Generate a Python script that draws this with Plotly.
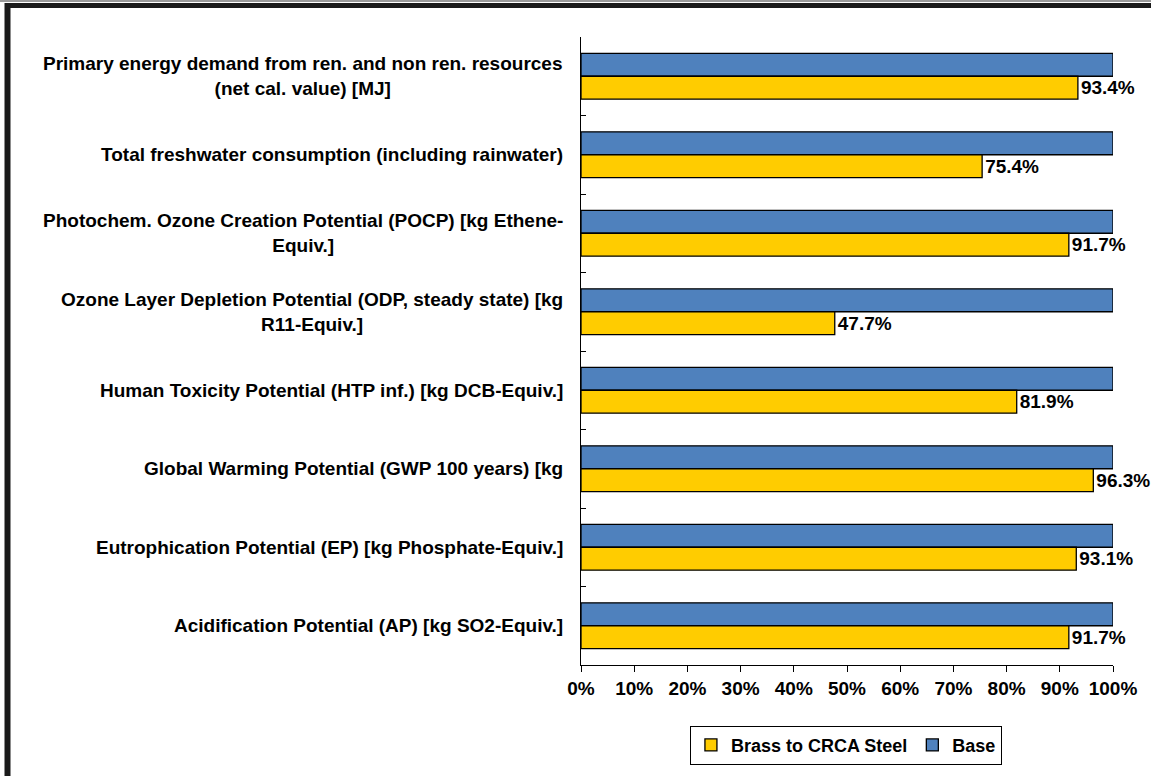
import plotly.graph_objects as go

categories = [
    "Primary energy demand from ren. and non ren. resources<br>(net cal. value) [MJ]",
    "Total freshwater consumption (including rainwater)",
    "Photochem. Ozone Creation Potential (POCP) [kg Ethene-<br>Equiv.]",
    "Ozone Layer Depletion Potential (ODP, steady state) [kg<br>R11-Equiv.]",
    "Human Toxicity Potential (HTP inf.) [kg DCB-Equiv.]",
    "Global Warming Potential (GWP 100 years) [kg",
    "Eutrophication Potential (EP) [kg Phosphate-Equiv.]",
    "Acidification Potential (AP) [kg SO2-Equiv.]",
]
base_values = [1.0, 1.0, 1.0, 1.0, 1.0, 1.0, 1.0, 1.0]
brass_values = [0.934, 0.754, 0.917, 0.477, 0.819, 0.963, 0.931, 0.917]
x_ticks = [0, 0.1, 0.2, 0.3, 0.4, 0.5, 0.6, 0.7, 0.8, 0.9, 1.0]
x_tick_labels = ["0%", "10%", "20%", "30%", "40%", "50%", "60%", "70%", "80%", "90%", "100%"]

FONT = "Liberation Sans, Arial, sans-serif"
FS = 19
W, H = 1151, 776
ML, MR, MT, MB = 581, 38, 37, 110

ids = list(range(len(categories)))

fig = go.Figure()
fig.add_trace(go.Bar(
    y=ids, x=base_values, orientation="h", name="<b>Base</b>",
    marker=dict(color="#4F81BD", line=dict(color="#000000", width=1.3)),
))
fig.add_trace(go.Bar(
    y=ids, x=brass_values, orientation="h", name="<b>Brass to CRCA Steel</b>",
    marker=dict(color="#FFCC00", line=dict(color="#000000", width=1.3)),
    text=[f"{v*100:.1f}%" for v in brass_values],
    texttemplate="<b>%{text}</b>",
    textposition="outside", cliponaxis=False,
    textfont=dict(family=FONT, size=FS, color="#000000"),
))

annotations = []
for i, c in enumerate(categories):
    annotations.append(dict(
        x=-0.031, xref="paper", y=i, yref="y", text="<b>" + c + "</b>",
        showarrow=False, xanchor="right", yanchor="middle", align="center",
        font=dict(family=FONT, size=FS, color="#000000"),
    ))

pw = W - ML - MR
ph = H - MT - MB
def px(xp):
    return (xp - ML) / pw
def py(yp):
    return (H - MB - yp) / ph

shapes = [
    dict(type="line", xref="paper", yref="paper", x0=px(0), x1=px(1200), y0=py(1), y1=py(1),
         line=dict(color="#9a9a9a", width=2)),
    dict(type="line", xref="paper", yref="paper", x0=px(7.5), x1=px(1200), y0=py(5.5), y1=py(5.5),
         line=dict(color="#1a1a1a", width=5)),
    dict(type="line", xref="paper", yref="paper", x0=px(7.5), x1=px(7.5), y0=py(3), y1=py(800),
         line=dict(color="#1a1a1a", width=6)),
]

fig.update_layout(
    width=W, height=H,
    margin=dict(l=ML, r=MR, t=MT, b=MB),
    paper_bgcolor="white", plot_bgcolor="white",
    barmode="group", bargap=0.415, bargroupgap=0,
    font=dict(family=FONT, size=FS, color="#000000"),
    showlegend=True,
    legend=dict(
        orientation="h", x=0.498, xanchor="center", y=-0.095, yanchor="top",
        traceorder="reversed", bordercolor="#000000", borderwidth=1,
        font=dict(family=FONT, size=18, color="#000000"),
        itemwidth=30, tracegroupgap=0,
    ),
    xaxis=dict(
        range=[0, 1], tickvals=x_ticks,
        ticktext=["<b>" + t + "</b>" for t in x_tick_labels],
        showgrid=False, zeroline=False, showline=True, linecolor="#000000", linewidth=1,
        ticks="outside", ticklen=6, tickcolor="#000000",
        tickfont=dict(family=FONT, size=FS, color="#000000"),
        fixedrange=True,
    ),
    yaxis=dict(
        type="category", autorange="reversed", tickvals=ids, ticktext=[""] * len(ids),
        tickson="boundaries", ticks="inside", ticklen=5, tickcolor="#000000",
        showgrid=False, zeroline=False, showline=True, linecolor="#000000", linewidth=1,
        showticklabels=True,
    ),
    annotations=annotations,
    shapes=shapes,
)

fig.write_html("out.html")
